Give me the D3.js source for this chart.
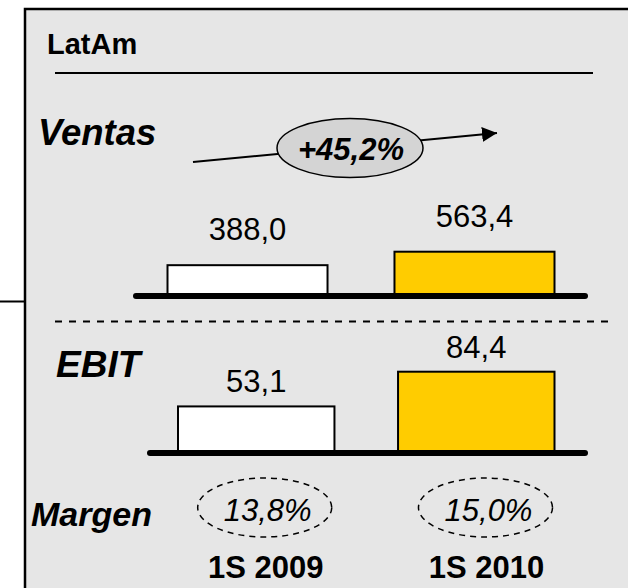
<!DOCTYPE html>
<html>
<head>
<meta charset="utf-8">
<script src="https://d3js.org/d3.v7.min.js"></script>
<style>
body { margin: 0; background: #ffffff; }
svg { display: block; font-family: "Liberation Sans", Arial, sans-serif; }
</style>
</head>
<body>
<svg id="chart"></svg>
<script>
// data
var periods = ["1S 2009", "1S 2010"];
var ventas = [388.0, 563.4];
var ebit = [53.1, 84.4];
var margen = [13.8, 15.0];
var growth = 45.2;
var title = "LatAm";

var W = 628, H = 588;
var svg = d3.select("#chart").attr("width", W).attr("height", H);

var loc = d3.formatLocale({decimal: ",", thousands: ".", grouping: [3], currency: ["", ""]});
var f1 = loc.format(".1f");

var yellow = "#ffcc00";

// panel
svg.append("rect").attr("x", 25).attr("y", 9).attr("width", W).attr("height", H)
	.style("fill", "#e6e6e6").style("stroke", "#000").style("stroke-width", 2.5);
svg.append("line").attr("x1", 0).attr("x2", 25).attr("y1", 301.5).attr("y2", 301.5)
	.style("stroke", "#000").style("stroke-width", 2);

// title
svg.append("text").attr("x", 47).attr("y", 54).text(title)
	.style("font-size", "29px").style("font-weight", "bold");
svg.append("line").attr("x1", 55).attr("x2", 593).attr("y1", 73).attr("y2", 73)
	.style("stroke", "#000").style("stroke-width", 2);

// section labels
function sectionLabel(txt, x, y, size) {
	svg.append("text").attr("x", x).attr("y", y).text(txt)
		.style("font-size", size + "px").style("font-weight", "bold").style("font-style", "italic");
}
sectionLabel("Ventas", 38, 145, 36.5);
sectionLabel("EBIT", 56, 377, 37);
sectionLabel("Margen", 31, 526, 34);

// ---- Ventas
var xV = d3.scaleBand().domain(periods).range([167.5, 554.5]).paddingInner(0.295).paddingOuter(0);
var yV = d3.scaleLinear().domain([0, d3.max(ventas)]).range([295, 251.7]);

svg.selectAll("rect.ventas").data(ventas).enter().append("rect").attr("class", "ventas")
	.attr("x", function(d, i){ return xV(periods[i]); })
	.attr("y", function(d){ return yV(d); })
	.attr("width", xV.bandwidth())
	.attr("height", function(d){ return yV(0) - yV(d); })
	.style("fill", function(d, i){ return i == 1 ? yellow : "#ffffff"; })
	.style("stroke", "#000").style("stroke-width", 2);

svg.selectAll("text.ventas").data(ventas).enter().append("text").attr("class", "ventas")
	.attr("x", function(d, i){ return xV(periods[i]) + xV.bandwidth() / 2; })
	.attr("y", function(d){ return yV(d) - 25; })
	.text(function(d){ return f1(d); })
	.style("font-size", "31px").style("text-anchor", "middle");

svg.append("line").attr("x1", 136).attr("x2", 585).attr("y1", 296).attr("y2", 296)
	.style("stroke", "#000").style("stroke-width", 6).style("stroke-linecap", "round");

// growth arrow
svg.append("defs").append("marker").attr("id", "head")
	.attr("viewBox", "0 0 10 10").attr("refX", 10).attr("refY", 5)
	.attr("markerWidth", 15).attr("markerHeight", 15).attr("markerUnits", "userSpaceOnUse")
	.attr("orient", "auto")
	.append("path").attr("d", "M0,0 L10,5 L0,10 Z").style("fill", "#000");

svg.append("line").attr("x1", 193).attr("y1", 162).attr("x2", 497).attr("y2", 133)
	.style("stroke", "#000").style("stroke-width", 2).attr("marker-end", "url(#head)");
svg.append("ellipse").attr("cx", 350).attr("cy", 148).attr("rx", 73).attr("ry", 29.5)
	.style("fill", "#d4d4d4").style("stroke", "#000").style("stroke-width", 1.5);
svg.append("text").attr("x", 351).attr("y", 160).text("+" + f1(growth) + "%")
	.style("font-size", "31px").style("font-weight", "bold").style("font-style", "italic")
	.style("text-anchor", "middle");

// separator
svg.append("line").attr("x1", 55).attr("x2", 610).attr("y1", 321.5).attr("y2", 321.5)
	.style("stroke", "#000").style("stroke-width", 2).style("stroke-dasharray", "7,7");

// ---- EBIT
var xE = d3.scaleBand().domain(periods).range([178, 554.5]).paddingInner(0.289).paddingOuter(0);
var yE = d3.scaleLinear().domain([12, d3.max(ebit)]).range([452, 371.7]);

svg.selectAll("rect.ebit").data(ebit).enter().append("rect").attr("class", "ebit")
	.attr("x", function(d, i){ return xE(periods[i]); })
	.attr("y", function(d){ return yE(d); })
	.attr("width", xE.bandwidth())
	.attr("height", function(d){ return yE(yE.domain()[0]) - yE(d); })
	.style("fill", function(d, i){ return i == 1 ? yellow : "#ffffff"; })
	.style("stroke", "#000").style("stroke-width", 2);

svg.selectAll("text.ebit").data(ebit).enter().append("text").attr("class", "ebit")
	.attr("x", function(d, i){ return xE(periods[i]) + xE.bandwidth() / 2; })
	.attr("y", function(d){ return yE(d) - 14; })
	.text(function(d){ return f1(d); })
	.style("font-size", "31px").style("text-anchor", "middle");

svg.append("line").attr("x1", 150).attr("x2", 585).attr("y1", 453).attr("y2", 453)
	.style("stroke", "#000").style("stroke-width", 6).style("stroke-linecap", "round");

// ---- Margen + period labels
var xM = d3.scaleBand().domain(periods).range([197.7, 552.5]).paddingInner(0.393).paddingOuter(0);

svg.selectAll("ellipse.margen").data(margen).enter().append("ellipse").attr("class", "margen")
	.attr("cx", function(d, i){ return xM(periods[i]) + xM.bandwidth() / 2; })
	.attr("cy", 507.5).attr("rx", xM.bandwidth() / 2).attr("ry", 29.5)
	.style("fill", "none").style("stroke", "#000").style("stroke-width", 1.5)
	.style("stroke-dasharray", "6,5");

svg.selectAll("text.margen").data(margen).enter().append("text").attr("class", "margen")
	.attr("x", function(d, i){ return xM(periods[i]) + xM.bandwidth() / 2 + 3; })
	.attr("y", 521)
	.text(function(d){ return f1(d) + "%"; })
	.style("font-size", "31px").style("font-style", "italic").style("text-anchor", "middle");

svg.selectAll("text.period").data(periods).enter().append("text").attr("class", "period")
	.attr("x", function(d){ return xM(d) + xM.bandwidth() / 2 + 1; })
	.attr("y", 578)
	.text(function(d){ return d; })
	.style("font-size", "31px").style("font-weight", "bold").style("text-anchor", "middle");
</script>
</body>
</html>
